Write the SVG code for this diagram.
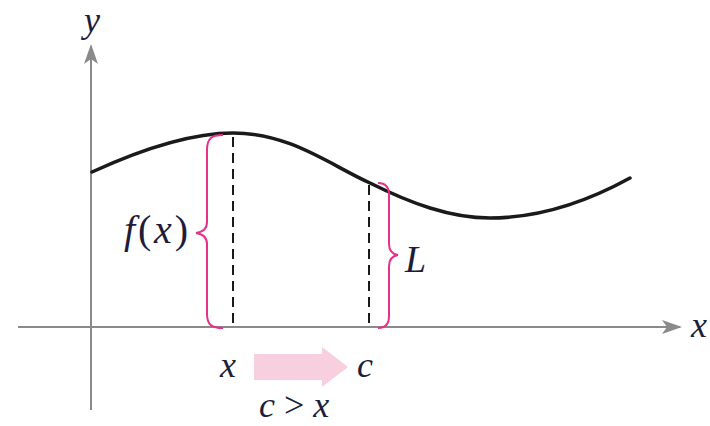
<svg xmlns="http://www.w3.org/2000/svg" width="710" height="426" viewBox="0 0 710 426">
<style>
.axis{stroke:#8a8a8a;stroke-width:2;fill:none}
.curve{stroke:#1a1a1a;stroke-width:3.5;fill:none;stroke-linecap:round}
.dash{stroke:#1a1a1a;stroke-width:2;stroke-dasharray:10,6;fill:none}
.brace{stroke:#e8308a;stroke-width:2;fill:none}
.t{font-family:"Liberation Serif",serif;font-style:italic;font-size:36px;fill:#1d1d3a}
.u{font-style:normal}
</style>
<defs>
<marker id="ah" viewBox="0 0 20 14" refX="18" refY="7" markerWidth="20" markerHeight="14" markerUnits="userSpaceOnUse" orient="auto">
<path d="M0,0 L20,7 L0,14 L5,7 Z" fill="#8a8a8a"/>
</marker>
</defs>
<g id="axes">
<line class="axis" x1="18" y1="327" x2="680" y2="327" marker-end="url(#ah)"/>
<line class="axis" x1="91" y1="410" x2="91" y2="46" marker-end="url(#ah)"/>
<text class="t" x="691" y="337">x</text>
<text class="t" x="84" y="32">y</text>
</g>
<g id="curve">
<path class="curve" d="M92,172 C140,150 190,133 233,133 C290,133 330,165 370,183 C410,203 450,218 490,218 C540,218 590,200 630,178"/>
</g>
<g id="connectors">
<line class="dash" x1="233" y1="137" x2="233" y2="327"/>
<line class="dash" x1="369" y1="185" x2="369" y2="327"/>
</g>
<g id="brace-fx">
<path class="brace" d="M223,135 C212,135 207,138 207,150 L207,222 C207,229 203,232 196,233 C203,234 207,237 207,244 L207,314 C207,325 212,328 223,328"/>
<text class="t" x="124" y="243" style="font-size:40px" textLength="64" lengthAdjust="spacing">f<tspan class="u">(</tspan>x<tspan class="u">)</tspan></text>
</g>
<g id="brace-L">
<path class="brace" d="M378,183 C386,183 389,187 389,195 L389,244 C389,251 392,254 398,255 C392,256 389,259 389,266 L389,316 C389,324 386,328 378,328"/>
<text class="t" x="405" y="272" style="font-size:38px">L</text>
</g>
<g id="arrow">
<path d="M254,354 L322,354 L322,347 L348,367 L322,387 L322,380 L254,380 Z" fill="#f8cfdf"/>
<text class="t" x="220" y="377">x</text>
<text class="t" x="357" y="377">c</text>
<text class="t" x="259" y="417">c <tspan class="u">&gt;</tspan> x</text>
</g>
</svg>
